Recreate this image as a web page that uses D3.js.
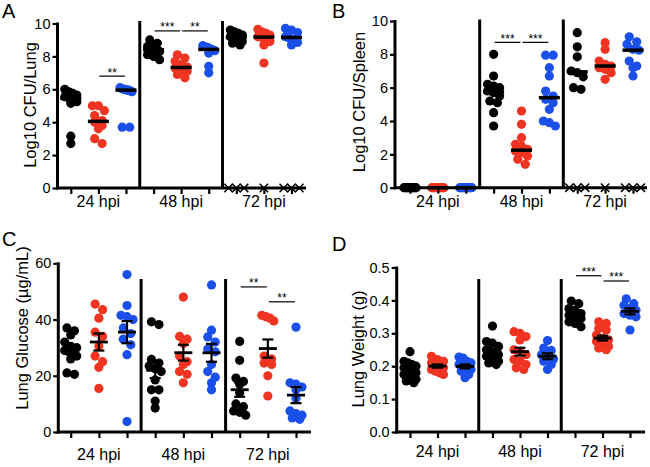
<!DOCTYPE html>
<html><head><meta charset="utf-8">
<script src="https://cdn.jsdelivr.net/npm/d3@7"></script>
<style>
body{margin:0;background:#fff;}
svg{display:block;font-family:"Liberation Sans",Arial,Helvetica,sans-serif;}
</style></head><body>
<svg id="chart" width="650" height="467"></svg>
<script>
// ---------- categories ----------
const timepoints = ["24 hpi", "48 hpi", "72 hpi"];
const groupNames = ["black", "red", "blue"];
const groupColors = ["#000000", "#ef3421", "#1b4fe9"];
const deaths72 = [3, 1, 3]; // mice plotted as crosses on the axis at 72 hpi (A, B)

// ---------- tick labels ----------
const cfuTicks = [0, 2, 4, 6, 8, 10];
const glucoseTicks = [0, 20, 40, 60];
const weightTicks = [0, 0.1, 0.2, 0.3, 0.4, 0.5];

// ---------- A: Log10 CFU/Lung  [24, 48, 72 hpi] ----------
const lungCFU_black = [
  [6.0, 5.85, 5.75, 5.65, 5.55, 5.5, 5.4, 5.3, 5.25, 5.15, 3.15, 2.7],
  [9.0, 8.8, 8.6, 8.5, 8.4, 8.4, 8.3, 8.1, 8.0, 7.8],
  [9.6, 9.5, 9.4, 9.3, 9.2, 9.15, 9.1, 9.0, 8.9, 8.8, 8.7]
];
const lungCFU_red = [
  [5.0, 5.0, 4.7, 4.4, 4.1, 4.0, 3.8, 3.6, 3.0, 2.7],
  [8.1, 7.9, 7.7, 7.5, 7.4, 7.35, 7.3, 7.25, 7.2, 7.1, 6.9, 6.7],
  [9.65, 9.5, 9.4, 9.3, 9.2, 9.15, 9.1, 8.9, 8.7, 7.6]
];
const lungCFU_blue = [
  [6.1, 6.05, 6.0, 6.0, 5.95, 5.95, 5.9, 5.85, 3.7, 3.7],
  [8.65, 8.6, 8.55, 8.5, 8.45, 8.4, 8.35, 8.2, 7.4, 7.0],
  [9.7, 9.6, 9.45, 9.2, 9.1, 9.0, 8.85, 8.7]
];
const lungCFU_sig = [[1, 2, "**", 6.8], [3, 4, "***", 9.55], [4, 5, "**", 9.55]];

// ---------- B: Log10 CFU/Spleen ----------
const spleenCFU_black = [
  [0, 0, 0, 0, 0, 0, 0, 0, 0, 0, 0, 0],
  [8.0, 6.7, 6.2, 6.1, 6.0, 5.8, 5.7, 5.5, 5.2, 5.1, 4.5, 3.7],
  [9.3, 8.45, 7.85, 7.0, 6.9, 6.65, 6.0, 5.9]
];
const spleenCFU_red = [
  [0, 0, 0, 0, 0, 0, 0, 0, 0, 0],
  [4.6, 3.8, 3.0, 2.6, 2.5, 2.3, 2.2, 2.2, 2.1, 1.9, 1.7, 1.4],
  [8.7, 8.3, 7.6, 7.4, 7.3, 7.2, 7.1, 6.9, 6.5]
];
const spleenCFU_blue = [
  [0, 0, 0, 0, 0, 0, 0, 0, 0, 0],
  [7.95, 7.95, 7.2, 6.7, 5.8, 5.5, 5.3, 5.1, 4.7, 4.0, 3.9, 3.7],
  [9.05, 8.75, 8.6, 8.3, 8.25, 7.6, 7.3, 7.2, 6.7]
];
const spleenCFU_sig = [[3, 4, "***", 8.72], [4, 5, "***", 8.72]];

// ---------- C: Lung Glucose (µg/mL) ----------
const glucose_black = [
  [37, 36, 34.5, 32, 30.5, 30, 29, 28.5, 28, 27, 26, 21, 20.5],
  [39.2, 38.2, 25.8, 24.5, 23.5, 22.5, 21.5, 18.5, 15, 15, 11, 8.5],
  [32.2, 25.5, 19.2, 18, 17, 14, 10, 9, 7.5, 7, 6]
];
const glucose_red = [
  [45.5, 43.5, 40.5, 35.5, 34, 30.5, 27, 25, 23, 15.5],
  [48, 34, 33, 31.5, 27, 25, 24, 21.5, 20.5, 17.5],
  [41.5, 41, 40.5, 39.5, 27, 26, 24.5, 24, 20, 12.8]
];
const glucose_blue = [
  [56, 45, 41.5, 41, 40, 37, 35, 33, 31, 27.5, 3.7],
  [52.3, 36.2, 33.8, 32, 29.5, 28.5, 24, 21.5, 19.5, 17.5, 15],
  [37.3, 17.5, 17, 16, 15, 12, 7.5, 6.5, 6, 5, 4.5]
];
const glucose_sig = [[6, 7, "**", 51.6], [7, 8, "**", 46.3]];

// ---------- D: Lung Weight (g) ----------
const weight_black = [
  [0.244, 0.215, 0.21, 0.205, 0.2, 0.195, 0.19, 0.185, 0.18, 0.175, 0.17, 0.165, 0.16, 0.155, 0.15],
  [0.322, 0.275, 0.27, 0.26, 0.25, 0.245, 0.24, 0.235, 0.23, 0.225, 0.22, 0.215, 0.21, 0.205],
  [0.398, 0.39, 0.375, 0.37, 0.36, 0.355, 0.35, 0.345, 0.335, 0.33, 0.32]
];
const weight_red = [
  [0.23, 0.22, 0.215, 0.21, 0.205, 0.2, 0.2, 0.195, 0.19, 0.185, 0.18, 0.175],
  [0.305, 0.3, 0.29, 0.28, 0.25, 0.245, 0.235, 0.22, 0.215, 0.205, 0.195, 0.19],
  [0.335, 0.33, 0.315, 0.31, 0.295, 0.285, 0.28, 0.275, 0.27, 0.27, 0.265, 0.26, 0.255, 0.25]
];
const weight_blue = [
  [0.228, 0.225, 0.215, 0.21, 0.205, 0.2, 0.195, 0.19, 0.185, 0.175, 0.165],
  [0.278, 0.255, 0.248, 0.235, 0.225, 0.222, 0.215, 0.205, 0.19],
  [0.405, 0.39, 0.385, 0.375, 0.37, 0.36, 0.355, 0.35, 0.31]
];
const weight_sig = [[6, 7, "***", 0.475], [7, 8, "***", 0.459]];

// ---------- layout ----------
const panels = [
  {letter: "A", lx: 2, ly: 18, title: "Log10 CFU/Lung", tx: 30, ty: 105,
   series: [lungCFU_black, lungCFU_red, lungCFU_blue], sig: lungCFU_sig, ticks: cfuTicks, fmt: d3.format("d"),
   domain: [0, 10], axisX: 57.5, x0: 70.8, x1: 291.5, xEnd: 306, yBottom: 188, yTop: 23.5, divTop: 21,
   summary: "median", deaths: deaths72, labelY: 207},
  {letter: "B", lx: 332, ly: 18, title: "Log10 CFU/Spleen", tx: 359, ty: 102,
   series: [spleenCFU_black, spleenCFU_red, spleenCFU_blue], sig: spleenCFU_sig, ticks: cfuTicks, fmt: d3.format("d"),
   domain: [0, 10], axisX: 395, x0: 410, x1: 633, xEnd: 647, yBottom: 187.7, yTop: 21, divTop: 19.5,
   summary: "median", deaths: deaths72, labelY: 207},
  {letter: "C", lx: 2, ly: 246, title: "Lung Glucose (µg/mL)", tx: 22, ty: 328,
   series: [glucose_black, glucose_red, glucose_blue], sig: glucose_sig, ticks: glucoseTicks, fmt: d3.format("d"),
   domain: [0, 60], axisX: 58.3, x0: 70.7, x1: 296, xEnd: 311, yBottom: 432, yTop: 263.3, divTop: 279,
   summary: "meanSEM", deaths: null, labelY: 460},
  {letter: "D", lx: 332, ly: 251, title: "Lung Weight (g)", tx: 358, ty: 349,
   series: [weight_black, weight_red, weight_blue], sig: weight_sig, ticks: weightTicks, fmt: d3.format(".1f"),
   domain: [0, 0.5], axisX: 396.7, x0: 410, x1: 630, xEnd: 645, yBottom: 432, yTop: 267.5, divTop: 279,
   summary: "meanSEM", deaths: null, labelY: 457}
];

const R = 4.6, MAXHALF = 6, ROWH = 6;
const svg = d3.select("#chart");

// Prism-like scatter: points binned into rows by pixel height, spread horizontally within a row
function swarm(values, y) {
  const pts = values.map(v => ({v, y: y(v)})).sort((a, b) => a.y - b.y);
  const rows = []; let cur = null;
  for (const p of pts) {
    if (cur && p.y - cur[0].y < ROWH) cur.push(p); else { cur = [p]; rows.push(cur); }
  }
  rows.forEach(row => {
    const k = row.length;
    const sp = k > 1 ? Math.min(7.5, 2 * MAXHALF / (k - 1)) : 0;
    row.forEach((p, i) => p.dx = (i - (k - 1) / 2) * sp);
  });
  return pts;
}

panels.forEach(cfg => {
  const g = svg.append("g");
  const x = d3.scalePoint().domain(d3.range(9)).range([cfg.x0, cfg.x1]);
  const y = d3.scaleLinear().domain(cfg.domain).range([cfg.yBottom, cfg.yTop]);

  // group dividers
  [2, 5].forEach(i => {
    const xm = (x(i) + x(i + 1)) / 2;
    g.append("line").attr("x1", xm).attr("x2", xm).attr("y1", cfg.divTop).attr("y2", cfg.yBottom)
      .attr("stroke", "#000").attr("stroke-width", 3);
  });

  // points
  timepoints.forEach((tp, t) => {
    groupNames.forEach((gn, gi) => {
      const cx = x(t * 3 + gi);
      const pts = swarm(cfg.series[gi][t], y);
      g.append("g").selectAll("circle").data(pts).join("circle")
        .attr("cx", d => cx + d.dx).attr("cy", d => d.y).attr("r", R)
        .attr("fill", groupColors[gi]);
    });
  });

  // x axis ticks
  const xa = g.append("g").attr("transform", `translate(0,${cfg.yBottom})`)
    .call(d3.axisBottom(x).tickSize(6).tickFormat(""));
  xa.select(".domain").remove();
  xa.selectAll(".tick line").attr("stroke", "#000").attr("stroke-width", 2.2);

  // dead animals (crosses on axis)
  if (cfg.deaths) {
    cfg.deaths.forEach((n, gi) => {
      const cx = x(6 + gi);
      d3.range(n).forEach(k => {
        const xx = cx + (k - (n - 1) / 2) * 7.8, yy = y(0), s = 4.2;
        g.append("path").attr("d", `M${xx - s},${yy - s}L${xx + s},${yy + s}M${xx - s},${yy + s}L${xx + s},${yy - s}`)
          .attr("stroke", "#000").attr("stroke-width", 1.5).attr("fill", "none");
      });
    });
  }

  // summary bars
  timepoints.forEach((tp, t) => {
    groupNames.forEach((gn, gi) => {
      const vals = cfg.series[gi][t];
      const cx = x(t * 3 + gi);
      if (cfg.summary === "median") {
        const m = d3.median(vals);
        g.append("line").attr("x1", cx - 10.5).attr("x2", cx + 10.5).attr("y1", y(m)).attr("y2", y(m))
          .attr("stroke", "#000").attr("stroke-width", 3.5);
      } else {
        const m = d3.mean(vals), se = d3.deviation(vals) / Math.sqrt(vals.length);
        const ys = [y(m - se), y(m + se)];
        g.append("line").attr("x1", cx).attr("x2", cx).attr("y1", ys[0]).attr("y2", ys[1])
          .attr("stroke", "#000").attr("stroke-width", 2.2);
        ys.forEach(yy => g.append("line").attr("x1", cx - 5.5).attr("x2", cx + 5.5).attr("y1", yy).attr("y2", yy)
          .attr("stroke", "#000").attr("stroke-width", 2.2));
        g.append("line").attr("x1", cx - 9).attr("x2", cx + 9).attr("y1", y(m)).attr("y2", y(m))
          .attr("stroke", "#000").attr("stroke-width", 2.8);
      }
    });
  });

  // y axis
  const ya = g.append("g").attr("transform", `translate(${cfg.axisX},0)`)
    .call(d3.axisLeft(y).tickValues(cfg.ticks).tickSize(5).tickPadding(2).tickFormat(cfg.fmt));
  ya.select(".domain").remove();
  ya.selectAll(".tick line").attr("stroke", "#000").attr("stroke-width", 2.2);
  ya.selectAll(".tick text").attr("font-size", 14.5).attr("fill", "#000")
    .attr("font-family", "'Liberation Sans',Arial,sans-serif");
  g.append("line").attr("x1", cfg.axisX).attr("x2", cfg.axisX).attr("y1", cfg.yTop - 1).attr("y2", cfg.yBottom + 1.5)
    .attr("stroke", "#000").attr("stroke-width", 3);
  g.append("line").attr("x1", cfg.axisX - 1.5).attr("x2", cfg.xEnd).attr("y1", cfg.yBottom).attr("y2", cfg.yBottom)
    .attr("stroke", "#000").attr("stroke-width", 3);

  // significance bars
  cfg.sig.forEach(([a, b, txt, lvl]) => {
    const yy = y(lvl);
    g.append("line").attr("x1", x(a) + 1).attr("x2", x(b) - 1).attr("y1", yy).attr("y2", yy)
      .attr("stroke", "#000").attr("stroke-width", 1.2);
    g.append("text").attr("x", (x(a) + x(b)) / 2).attr("y", yy + 0.5).attr("text-anchor", "middle")
      .attr("font-size", 12).text(txt);
  });

  // timepoint labels
  timepoints.forEach((tp, t) => {
    g.append("text").attr("x", x(t * 3 + 1)).attr("y", cfg.labelY).attr("text-anchor", "middle")
      .attr("font-size", 16).text(tp);
  });

  // y title
  g.append("text").attr("transform", `translate(${cfg.tx},${cfg.ty}) rotate(-90)`).attr("dy", "0.35em")
    .attr("text-anchor", "middle").attr("font-size", 16.5).text(cfg.title);

  // panel letter
  g.append("text").attr("x", cfg.lx).attr("y", cfg.ly).attr("font-size", 20).text(cfg.letter);
});
</script>
</body></html>
